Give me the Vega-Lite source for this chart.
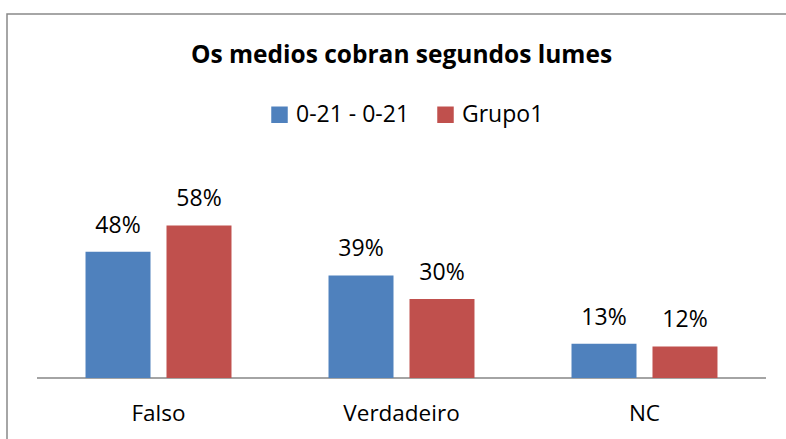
{
  "$schema": "https://vega.github.io/schema/vega-lite/v6.json",
  "autosize": "none",
  "padding": {"left": 7, "top": 14, "right": 0, "bottom": 0},
  "width": 789,
  "height": 440,
  "background": "white",
  "config": {
    "view": {"stroke": "#898989", "strokeWidth": 1.5},
    "font": "Open Sans"
  },
  "title": {
    "text": "Os medios cobran segundos lumes",
    "font": "Open Sans",
    "fontSize": 24.5,
    "fontWeight": "bold",
    "color": "#000000",
    "anchor": "middle",
    "frame": "group",
    "offset": 0,
    "baseline": "alphabetic",
    "dy": 73
  },
  "datasets": {
    "bars": [
      {"categoria": "Falso", "serie": "0-21 - 0-21", "valor": 0.48},
      {"categoria": "Falso", "serie": "Grupo1", "valor": 0.58},
      {"categoria": "Verdadeiro", "serie": "0-21 - 0-21", "valor": 0.39},
      {"categoria": "Verdadeiro", "serie": "Grupo1", "valor": 0.30},
      {"categoria": "NC", "serie": "0-21 - 0-21", "valor": 0.13},
      {"categoria": "NC", "serie": "Grupo1", "valor": 0.12}
    ],
    "cats": [
      {"categoria": "Falso"},
      {"categoria": "Verdadeiro"},
      {"categoria": "NC"}
    ]
  },
  "encoding": {
    "x": {
      "field": "categoria",
      "type": "nominal",
      "sort": ["Falso", "Verdadeiro", "NC"],
      "scale": {"paddingInner": 0, "paddingOuter": 0.1235},
      "axis": {
        "title": null,
        "domain": false,
        "ticks": false,
        "grid": false,
        "labelAngle": 0,
        "labelFont": "Open Sans",
        "labelFontSize": 22.5,
        "labelColor": "#000000",
        "labelBaseline": "alphabetic",
        "offset": -76,
        "labelPadding": 42
      }
    }
  },
  "layer": [
    {
      "data": {"name": "cats"},
      "mark": {"type": "rect", "fill": null, "stroke": "#868686", "strokeWidth": 1.5},
      "encoding": {
        "y": {"datum": 0, "type": "quantitative", "scale": {"domain": [-0.289, 1.384], "zero": false, "nice": false}, "axis": null},
        "y2": {"datum": 0}
      }
    },
    {
      "data": {"name": "bars"},
      "mark": {"type": "bar"},
      "encoding": {
        "xOffset": {
          "field": "serie",
          "type": "nominal",
          "sort": ["0-21 - 0-21", "Grupo1"],
          "scale": {"paddingInner": 0.1975, "paddingOuter": 0.599}
        },
        "y": {"field": "valor", "type": "quantitative", "scale": {"domain": [-0.289, 1.384], "zero": false, "nice": false}, "axis": null},
        "y2": {"datum": 0},
        "color": {
          "field": "serie",
          "type": "nominal",
          "scale": {"domain": ["0-21 - 0-21", "Grupo1"], "range": ["#4F81BD", "#C0504D"]},
          "legend": {
            "title": null,
            "orient": "none",
            "direction": "horizontal",
            "legendX": 261,
            "legendY": 89,
            "symbolType": "square",
            "symbolSize": 272,
            "symbolStrokeWidth": 0,
            "symbolOpacity": 1,
            "labelFont": "Open Sans",
            "labelFontSize": 23,
            "labelColor": "#000000",
            "labelOffset": 5,
            "columnPadding": 24
          }
        }
      }
    },
    {
      "data": {"name": "bars"},
      "mark": {"type": "text", "font": "Open Sans", "fontSize": 23, "color": "#000000", "baseline": "alphabetic", "dy": -19},
      "encoding": {
        "xOffset": {
          "field": "serie",
          "type": "nominal",
          "sort": ["0-21 - 0-21", "Grupo1"],
          "scale": {"paddingInner": 0.1975, "paddingOuter": 0.599}
        },
        "y": {"field": "valor", "type": "quantitative", "scale": {"domain": [-0.289, 1.384], "zero": false, "nice": false}, "axis": null},
        "text": {"field": "valor", "type": "quantitative", "format": ".0%"}
      }
    }
  ]
}
